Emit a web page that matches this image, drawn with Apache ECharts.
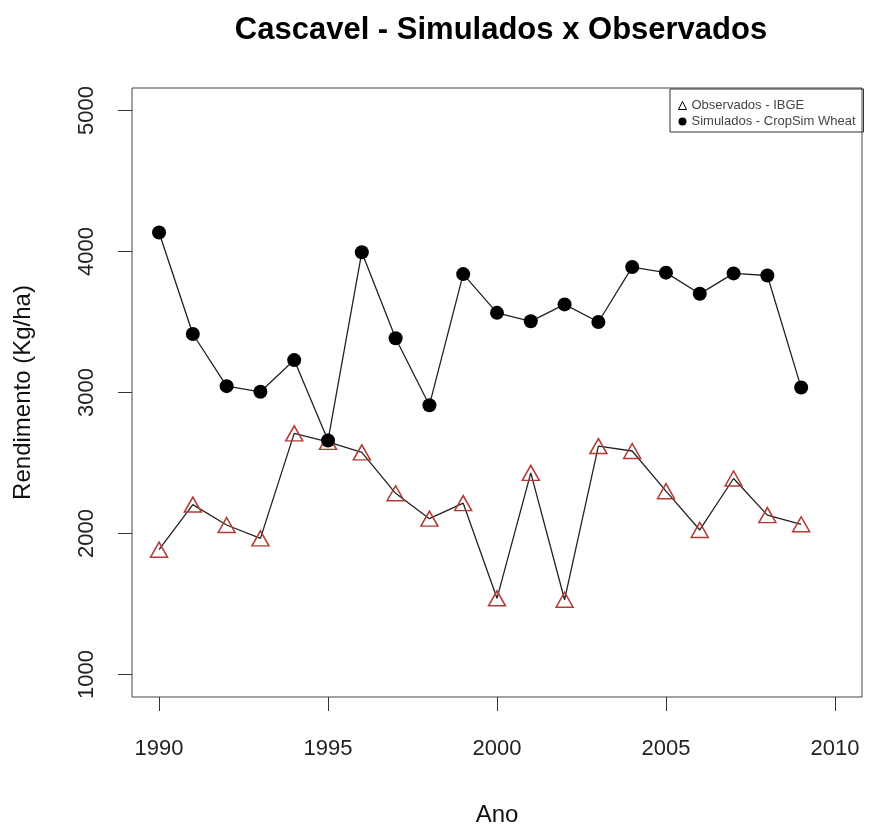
<!DOCTYPE html>
<html>
<head>
<meta charset="utf-8">
<title>Cascavel - Simulados x Observados</title>
<script src="https://cdn.jsdelivr.net/npm/echarts@6/dist/echarts.min.js"></script>
<style>
  html, body { margin: 0; padding: 0; background: #fff; }
  #chart { width: 893px; height: 825px; }
</style>
</head>
<body>
<div id="chart"></div>
<script>
const years = [1990, 1991, 1992, 1993, 1994, 1995, 1996, 1997, 1998, 1999,
               2000, 2001, 2002, 2003, 2004, 2005, 2006, 2007, 2008, 2009];
const observados = [1885, 2205, 2060, 1965, 2710, 2650, 2575, 2285, 2105, 2215,
                    1540, 2430, 1530, 2620, 2585, 2300, 2025, 2390, 2130, 2065];
const simulados = [4135, 3415, 3045, 3005, 3230, 2660, 3995, 3385, 2910, 3840,
                   3565, 3505, 3625, 3500, 3890, 3850, 3700, 3845, 3830, 3035];
const xTicks = [1990, 1995, 2000, 2005, 2010];
const yTicks = [1000, 2000, 3000, 4000, 5000];

const font = '"Liberation Sans", Arial, Helvetica, sans-serif';

const chart = echarts.init(document.getElementById('chart'));

chart.setOption({
  animation: false,
  backgroundColor: '#fff',
  textStyle: { fontFamily: font },
  graphic: [
    {
      type: 'text',
      x: 501, y: 15,
      style: {
        text: 'Cascavel - Simulados x Observados',
        font: 'bold 31px ' + font,
        fill: '#000',
        align: 'center'
      }
    }
  ],
  grid: {
    left: 132, right: 31, top: 88, bottom: 128,
    outerBoundsMode: 'none',
    containLabel: false,
    show: true, borderColor: '#444', borderWidth: 1
  },
  legend: {
    orient: 'vertical',
    left: 670, top: 89,
    padding: [10, 8, 4, 8],
    itemGap: 3,
    itemWidth: 8, itemHeight: 8,
    borderColor: '#333', borderWidth: 1,
    textStyle: { fontSize: 13, color: '#444', fontFamily: font },
    data: [
      { name: 'Observados - IBGE', icon: 'triangle',
        itemStyle: { color: 'rgba(0,0,0,0)', borderColor: '#000', borderWidth: 1 } },
      { name: 'Simulados - CropSim Wheat', icon: 'circle',
        itemStyle: { color: '#000' } }
    ]
  },
  xAxis: {
    type: 'value',
    min: 1989.2, max: 2010.8,
    name: 'Ano',
    nameLocation: 'middle',
    nameGap: 106,
    nameTextStyle: { fontSize: 24, color: '#111', fontFamily: font },
    axisLine: { show: false },
    splitLine: { show: false },
    axisTick: { show: true, inside: false, length: 14, customValues: xTicks,
                lineStyle: { color: '#333', width: 1 } },
    axisLabel: { customValues: xTicks, fontSize: 22, color: '#222', margin: 41,
                 formatter: v => String(v),
                 fontFamily: '"Liberation Sans Narrow", ' + font }
  },
  yAxis: {
    type: 'value',
    min: 840, max: 5160,
    name: 'Rendimento (Kg/ha)',
    nameLocation: 'middle',
    nameRotate: 90,
    nameGap: 97,
    nameTextStyle: { fontSize: 24, color: '#111', fontFamily: font },
    axisLine: { show: false },
    splitLine: { show: false },
    axisTick: { show: true, inside: false, length: 14, customValues: yTicks,
                lineStyle: { color: '#333', width: 1 } },
    axisLabel: { customValues: yTicks, fontSize: 22, color: '#222', rotate: 90, margin: 34,
                 formatter: v => String(v) }
  },
  series: [
    {
      name: 'Observados - IBGE',
      type: 'line',
      data: years.map((y, i) => [y, observados[i]]),
      symbol: 'triangle',
      symbolSize: [17, 15],
      lineStyle: { color: '#222', width: 1.3 },
      itemStyle: { color: 'rgba(0,0,0,0)', borderColor: '#b23b36', borderWidth: 1.5 },
      z: 2
    },
    {
      name: 'Simulados - CropSim Wheat',
      type: 'line',
      data: years.map((y, i) => [y, simulados[i]]),
      symbol: 'circle',
      symbolSize: 14,
      lineStyle: { color: '#222', width: 1.3 },
      itemStyle: { color: '#000' },
      z: 3
    }
  ]
});
</script>
</body>
</html>
